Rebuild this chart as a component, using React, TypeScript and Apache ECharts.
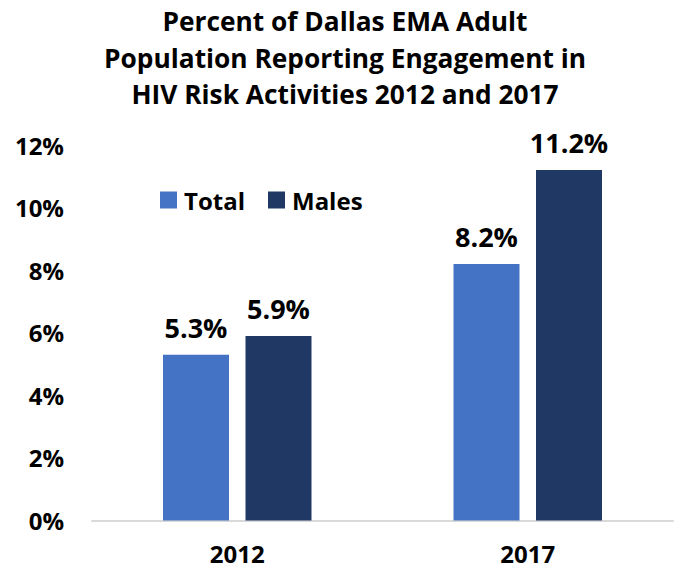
import React, { useEffect, useRef } from "react";
import * as echarts from "echarts";

const categories = ["2012", "2017"];
const totalValues = [5.3, 8.2];
const maleValues = [5.9, 11.2];
const seriesNames = ["Total", "Males"];
const titleText = "Percent of Dallas EMA Adult\nPopulation Reporting Engagement in\nHIV Risk Activities 2012 and 2017";

const FONT = "'Open Sans', Lato, sans-serif";

export default function App() {
  const ref = useRef<HTMLDivElement>(null);
  useEffect(() => {
    if (!ref.current) return;
    const chart = echarts.init(ref.current, undefined, { renderer: "svg" });
    const label = {
      show: true,
      position: "top",
      distance: 14,
      formatter: (p: any) => p.value.toFixed(1) + "%",
      fontFamily: FONT,
      fontWeight: "bold",
      fontSize: 27,
      color: "#000",
    };
    chart.setOption({
      animation: false,
      backgroundColor: "#fff",
      title: {
        text: titleText,
        left: 345,
        top: 3,
        padding: 0,
        textAlign: "center",
        textStyle: {
          fontFamily: FONT,
          fontWeight: "bold",
          fontSize: 26.3,
          lineHeight: 36.5,
          color: "#000",
        },
      },
      legend: {
        left: 155,
        top: 183,
        icon: "rect",
        itemWidth: 17,
        itemHeight: 17,
        itemGap: 23,
        textStyle: {
          fontFamily: FONT,
          fontWeight: "bold",
          fontSize: 24,
          color: "#000",
          padding: [0, 0, 0, 2],
        },
        data: seriesNames,
      },
      grid: { left: 92, right: 5, top: 145, bottom: 50.5, containLabel: false },
      xAxis: {
        type: "category",
        data: categories,
        axisLine: { lineStyle: { color: "#D9D9D9", width: 2 } },
        axisTick: { show: false },
        axisLabel: {
          margin: 21,
          lineHeight: 24,
          fontFamily: FONT,
          fontWeight: "bold",
          fontSize: 24,
          color: "#000",
        },
      },
      yAxis: {
        type: "value",
        min: 0,
        max: 12,
        interval: 2,
        splitLine: { show: false },
        axisLine: { show: false },
        axisTick: { show: false },
        axisLabel: {
          margin: 28,
          formatter: "{value}%",
          fontFamily: FONT,
          fontWeight: "bold",
          fontSize: 24,
          color: "#000",
        },
      },
      series: [
        {
          name: seriesNames[0],
          type: "bar",
          data: totalValues,
          barWidth: 66,
          barGap: "25%",
          itemStyle: { color: "#4472C4" },
          label,
        },
        {
          name: seriesNames[1],
          type: "bar",
          data: maleValues,
          barWidth: 66,
          barGap: "25%",
          itemStyle: { color: "#203864" },
          label,
        },
      ],
    });
    return () => chart.dispose();
  }, []);
  return <div ref={ref} style={{ width: 678, height: 571, position: "absolute", left: 0, top: 0 }} />;
}
